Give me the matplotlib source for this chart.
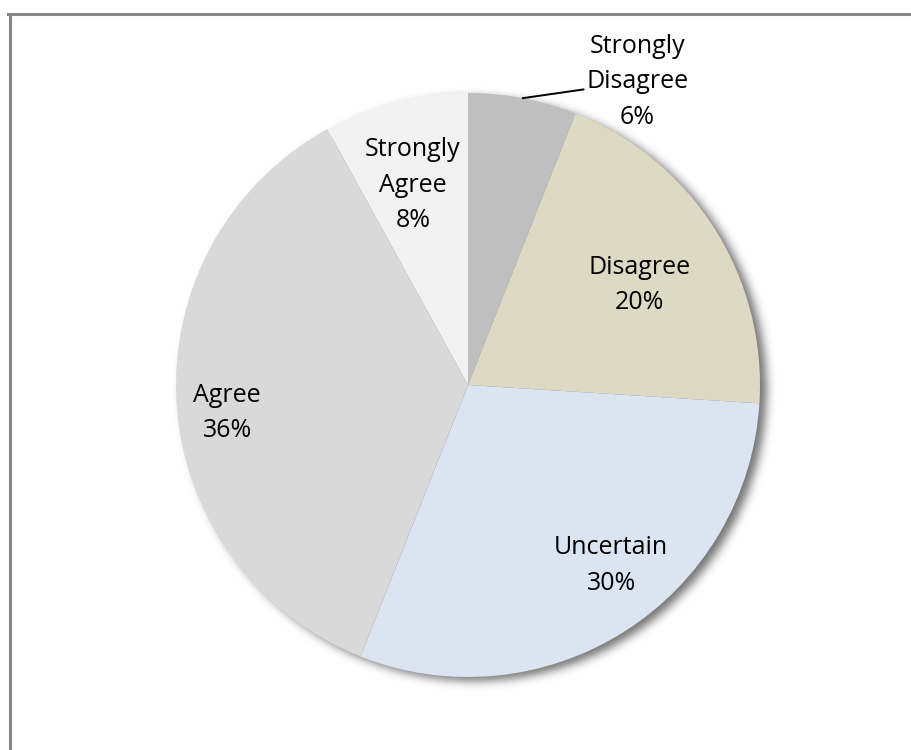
import numpy as np
import matplotlib.pyplot as plt
from matplotlib.lines import Line2D

plt.rcParams['font.family'] = ['Open Sans', 'DejaVu Sans']

# survey answers, clockwise from 12 o'clock
categories = ['Strongly\nDisagree', 'Disagree', 'Uncertain', 'Agree', 'Strongly\nAgree']
shares = [6, 20, 30, 36, 8]
colors = ['#BFBFBF', '#DDD9C3', '#DBE5F1', '#D9D9D9', '#F2F2F2']

W, H = 911, 750
cx, cy, R = 468, 385, 292   # pie centre and radius in pixels
L = 1.2                     # axes half-width in radii, room for the shadow

fig = plt.figure(figsize=(W / 100, H / 100), dpi=100)
ax = fig.add_axes([(cx - L * R) / W, (H - cy - L * R) / H, 2 * L * R / W, 2 * L * R / H])

# soft drop shadow behind the pie
n = 700
g = np.linspace(-L, L, n)
xx, yy = np.meshgrid(g, g)
disk = (((xx - 0.022) ** 2 + (yy + 0.016) ** 2) <= 1.0).astype(float)
sig = 0.016 / (g[1] - g[0])
k = np.arange(-int(4 * sig), int(4 * sig) + 1)
kern = np.exp(-k ** 2 / (2 * sig ** 2))
kern /= kern.sum()
blur = np.apply_along_axis(lambda r: np.convolve(r, kern, mode='same'), 1, disk)
blur = np.apply_along_axis(lambda c: np.convolve(c, kern, mode='same'), 0, blur)
shadow = np.zeros((n, n, 4))
shadow[..., 3] = 0.55 * blur
ax.imshow(shadow, extent=(-L, L, -L, L), origin='lower',
          zorder=0, interpolation='bilinear')

wedges, _ = ax.pie(shares, colors=colors, startangle=90, counterclock=False,
                   radius=1.0, wedgeprops=dict(linewidth=0))
for w in wedges:
    w.set_zorder(1)

# label distance from centre (in radii) and angular nudge (deg) per slice
label_r = [1.19, 0.68, 0.79, 0.83, 0.71]
label_da = [-18.4, -2.2, 6.0, 3.0, 1.0]
fs, ls = 18, 1.56
for w, name, v, r, da in zip(wedges, categories, shares, label_r, label_da):
    mid = np.deg2rad((w.theta1 + w.theta2) / 2)
    tx = r * np.cos(mid + np.deg2rad(da))
    ty = r * np.sin(mid + np.deg2rad(da))
    txt = f'{name}\n{v}%'
    if r > 1:
        ax.annotate(txt, xy=(np.cos(mid), np.sin(mid)), xytext=(tx, ty),
                    ha='center', va='center', fontsize=fs, linespacing=ls,
                    arrowprops=dict(arrowstyle='-', color='black', lw=1.4,
                                    shrinkA=0, shrinkB=0), zorder=3)
    else:
        ax.text(tx, ty, txt, ha='center', va='center', fontsize=fs,
                linespacing=ls, zorder=3)

ax.set_xlim(-L, L)
ax.set_ylim(-L, L)
ax.set_aspect('equal')
ax.axis('off')

# chart area frame
fig.add_artist(Line2D([9.5 / W, 9.5 / W], [0, 1 - 13.5 / H], color='#868686', lw=2.2))
fig.add_artist(Line2D([8 / W, 1], [1 - 13.5 / H, 1 - 13.5 / H], color='#868686', lw=2.2))

fig.savefig('out.png', dpi=100, facecolor='white')
